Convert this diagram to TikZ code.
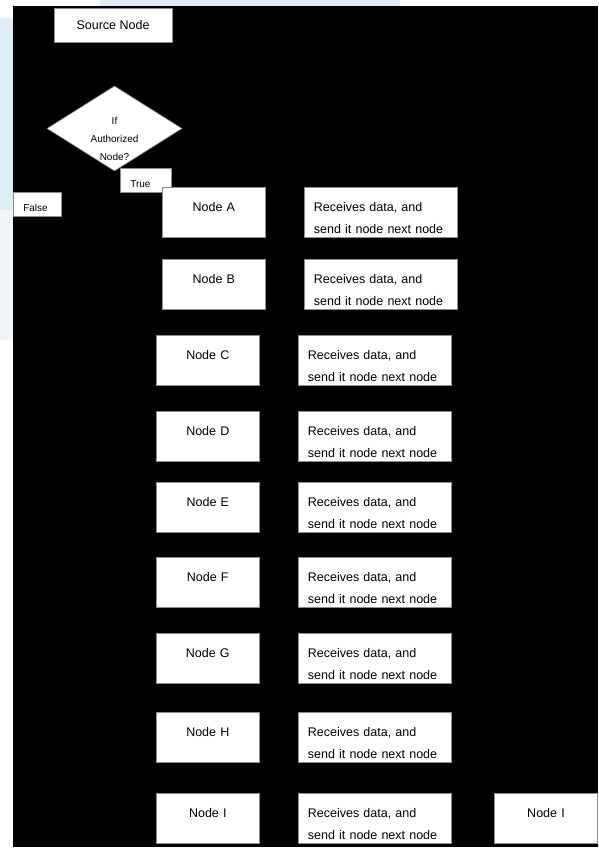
\documentclass[tikz,border=0pt]{standalone}
\usepackage{fontspec}
\setmainfont{Liberation Sans}
\usetikzlibrary{shapes.geometric,positioning}
\definecolor{washblue}{RGB}{221,238,247}
\definecolor{washlight}{RGB}{238,246,251}

\begin{document}
\begin{tikzpicture}[x=1pt,y=-1pt,node distance=38pt,
	box/.style={draw=black!45,fill=white,line width=0.6pt},
	nodebox/.style={box,anchor=north west,text width=95pt,inner xsep=4pt,inner ysep=15pt,text height=9pt,text depth=11pt,align=center,font=\fontsize{12.5}{22.5}\selectfont},
	recbox/.style={box,text width=133pt,inner xsep=10pt,inner ysep=15pt,text height=9pt,text depth=11pt,align=left,font=\fontsize{12.5}{22.5}\selectfont},
	tagbox/.style={box,anchor=north west,inner xsep=10pt,inner ysep=2pt,text height=17pt,text depth=2.5pt,align=left,font=\fontsize{10}{12}\selectfont}]
		\useasboundingbox (0,0) rectangle (598,851);
		% page and background
		\fill[white] (0,0) rectangle (598,851);
		\fill[washblue] (0,18) rectangle (13,210);
		\fill[washlight] (0,210) rectangle (13,340);
		\fill[washblue] (100,0) rectangle (400,6);
		\fill[black] (13,6) rectangle (598,847);
		% decision
		\node[box,minimum width=118pt,minimum height=34pt,font=\fontsize{12.5}{15}\selectfont](src) at (113,25) {Source Node};
		\node[box,diamond,minimum width=135pt,minimum height=85pt,inner sep=0pt,text width=60pt,align=center,text height=7pt,text depth=15pt,font=\fontsize{10}{18}\selectfont](auth) at (114.5,128.5) {If\\Authorized\\Node?};
		\node[tagbox,text width=31pt](yes) at (120,168) {True};
		\node[tagbox,text width=28pt](no) at (13,192) {False};
		% chain of nodes
		\node[nodebox](na) at (162,187) {Node A};
		\node[recbox](ra)[right=of na] {Receives data, and\\send it node next node};
		\node[nodebox](nb) at (162,259) {Node B};
		\node[recbox](rb)[right=of nb] {Receives data, and\\send it node next node};
		\node[nodebox](nc) at (156,335) {Node C};
		\node[recbox](rc)[right=of nc] {Receives data, and\\send it node next node};
		\node[nodebox](nd) at (156,411) {Node D};
		\node[recbox](rd)[right=of nd] {Receives data, and\\send it node next node};
		\node[nodebox](ne) at (156,482) {Node E};
		\node[recbox](re)[right=of ne] {Receives data, and\\send it node next node};
		\node[nodebox](nf) at (156,557) {Node F};
		\node[recbox](rf)[right=of nf] {Receives data, and\\send it node next node};
		\node[nodebox](ng) at (156,633) {Node G};
		\node[recbox](rg)[right=of ng] {Receives data, and\\send it node next node};
		\node[nodebox](nh) at (156,712) {Node H};
		\node[recbox](rh)[right=of nh] {Receives data, and\\send it node next node};
		\node[nodebox](ni) at (156,793) {Node I};
		\node[recbox](ri)[right=of ni] {Receives data, and\\send it node next node};
		\node[nodebox](last)[right=43pt of ri] {Node I};
\end{tikzpicture}
\end{document}
